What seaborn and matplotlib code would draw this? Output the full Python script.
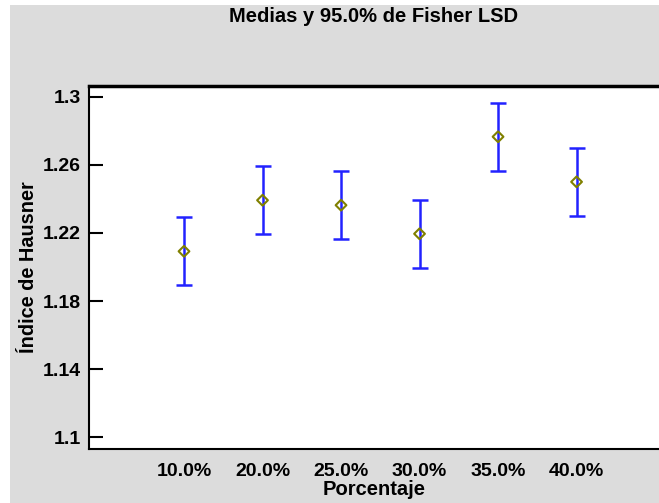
import matplotlib
matplotlib.use("Agg")
import matplotlib.pyplot as plt
import matplotlib.patches as patches
import seaborn as sns
import pandas as pd
import numpy as np

# values
categories = ["10.0%", "20.0%", "25.0%", "30.0%", "35.0%", "40.0%"]
means = [1.2092, 1.2392, 1.2363, 1.2195, 1.2765, 1.2500]
lower = [1.1892, 1.2192, 1.2163, 1.1995, 1.2565, 1.2300]
upper = [1.2294, 1.2592, 1.2565, 1.2392, 1.2963, 1.2700]
yticks = [1.1, 1.14, 1.18, 1.22, 1.26, 1.3]
ytick_labels = ["1.1", "1.14", "1.18", "1.22", "1.26", "1.3"]


def main():
    sns.set_theme(style="white")
    plt.rcParams['font.family'] = ['Liberation Sans', 'DejaVu Sans']
    plt.rcParams['font.weight'] = 'bold'
    plt.rcParams['text.color'] = 'black'
    plt.rcParams['axes.labelcolor'] = 'black'

    df = pd.DataFrame({
        'pos': np.arange(len(categories)),
        'Porcentaje': categories,
        'media': means,
        'low': lower,
        'high': upper,
    })

    fig = plt.figure(figsize=(6.59, 5.03), dpi=100, facecolor='white')
    # gray panel behind the plot (leaves a thin white strip at left/top)
    fig.patches.append(patches.Rectangle((10 / 659, 0), 1, 1 - 5 / 503,
                                         transform=fig.transFigure,
                                         facecolor='#dcdcdc', edgecolor='none',
                                         zorder=-10))
    ax = fig.add_axes([89 / 659, 54 / 503, 570 / 659, 363 / 503])
    ax.set_facecolor('white')

    # error bars (LSD intervals)
    ax.errorbar(df['pos'], df['media'],
                yerr=[df['media'] - df['low'], df['high'] - df['media']],
                fmt='none', ecolor='#2222ff', elinewidth=1.8,
                capsize=5.5, capthick=1.8, zorder=2)

    # means as open diamonds
    sns.scatterplot(data=df, x='pos', y='media', marker='D', s=30,
                    facecolor='none', edgecolor='#808000', linewidth=1.5,
                    ax=ax, zorder=3, legend=False)

    ax.set_xlim(-1.21, 6.05)
    ax.set_ylim(1.0931, 1.3063)
    ax.set_xticks(df['pos'])
    ax.set_xticklabels(categories)
    ax.set_yticks(yticks)
    ax.set_yticklabels(ytick_labels)

    ax.tick_params(axis='y', direction='in', length=10, width=1.5,
                   left=True, labelsize=14, pad=6, colors='black')
    ax.tick_params(axis='x', length=0, labelsize=14, pad=10, colors='black')
    for lbl in ax.get_xticklabels() + ax.get_yticklabels():
        lbl.set_fontweight('bold')

    for side in ['left', 'bottom']:
        ax.spines[side].set_visible(True)
        ax.spines[side].set_color('black')
        ax.spines[side].set_linewidth(1.5)
    ax.spines['top'].set_color('black')
    ax.spines['top'].set_linewidth(2.5)
    ax.spines['right'].set_visible(False)

    ax.set_xlabel('Porcentaje', fontsize=14.5, fontweight='bold', labelpad=0,
                  color='black')
    ax.set_ylabel('Índice de Hausner', fontsize=14.3, fontweight='bold',
                  labelpad=3, color='black')
    # title centred over the plot area
    fig.text((89 + 659) / 2 / 659, 1 - 17 / 503, 'Medias y 95.0% de Fisher LSD',
             ha='center', va='center', fontsize=14.5, fontweight='bold',
             color='black')

    fig.savefig('out.png', dpi=100, facecolor=fig.get_facecolor())


if __name__ == "__main__":
    main()
